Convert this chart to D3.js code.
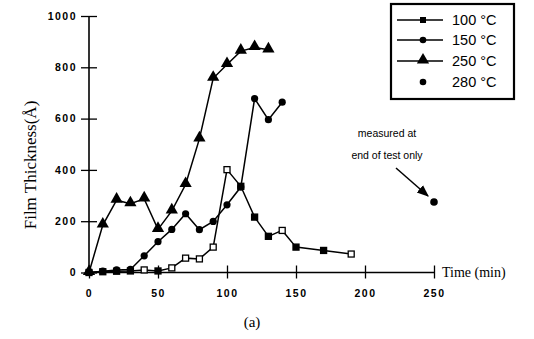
<!DOCTYPE html>
<html><head><meta charset="utf-8">
<script src="https://cdn.jsdelivr.net/npm/d3@7"></script>
<style>
body{margin:0;background:#fff}
svg{display:block}
</style></head>
<body>
<svg id="c" width="534" height="339"></svg>
<script>
// Data
const xTicks = [0, 50, 100, 150, 200, 250];
const yTicks = [0, 200, 400, 600, 800, 1000];

const t250 = [0, 10, 20, 30, 40, 50, 60, 70, 80, 90, 100, 110, 120, 130];
const v250 = [0, 185, 282, 268, 287, 168, 240, 343, 521, 757, 811, 863, 877, 868];

const t150 = [0, 10, 20, 30, 40, 50, 60, 70, 80, 90, 100, 110, 120, 130, 140];
const v150 = [0, 5, 10, 12, 65, 120, 168, 229, 167, 199, 264, 333, 678, 596, 664];

const t100 = [0, 10, 20, 30, 40, 50, 60, 70, 80, 90, 100, 110, 120, 130, 140, 150, 170, 190];
const v100 = [0, 3, 5, 6, 10, 6, 18, 56, 53, 99, 401, 336, 216, 141, 164, 99, 86, 72];
const hollow100 = [false, false, false, false, true, false, true, true, true, true, true, false, false, false, true, false, false, true];

const t280 = [250];
const v280 = [275];

const legendLabels = ["100 °C", "150 °C", "250 °C", "280 °C"];

const svg = d3.select("#c");
const x = d3.scaleLinear().domain([0, 250]).range([89, 434]);
const y = d3.scaleLinear().domain([0, 1000]).range([272.5, 16]);

// Y axis
const yAxis = d3.axisLeft(y).tickValues(yTicks).tickSize(8).tickPadding(5).tickFormat(d3.format("d"));
const yg = svg.append("g").attr("transform", "translate(89,0)").call(yAxis);
yg.select(".domain").remove();
yg.selectAll(".tick line").attr("x1", 8).attr("stroke", "#000").attr("stroke-width", 1.3);
yg.selectAll(".tick text").attr("font-family", "Arial, Liberation Sans, sans-serif").attr("font-weight", "bold").attr("font-size", 10.5).attr("letter-spacing", 1.5).attr("fill", "#000").attr("x", -12);
svg.append("line").attr("x1", 89).attr("x2", 89).attr("y1", y(1000)).attr("y2", y(0)).attr("stroke", "#000").attr("stroke-width", 1.6);

// X axis
const xAxis = d3.axisBottom(x).tickValues(xTicks).tickSize(6).tickPadding(11).tickFormat(d3.format("d"));
const xg = svg.append("g").attr("transform", `translate(0,${y(0)})`).call(xAxis);
xg.select(".domain").remove();
xg.selectAll(".tick line").attr("y1", -7).attr("stroke", "#000").attr("stroke-width", 1.3);
xg.selectAll(".tick text").attr("font-family", "Arial, Liberation Sans, sans-serif").attr("font-weight", "bold").attr("font-size", 10.5).attr("letter-spacing", 1.5).attr("fill", "#000");
svg.append("line").attr("x1", x(0)).attr("x2", x(250)).attr("y1", y(0)).attr("y2", y(0)).attr("stroke", "#000").attr("stroke-width", 1.3);

// Axis titles
svg.append("text").attr("x", 442).attr("y", y(0) + 4.5).attr("font-family", "Liberation Serif, Times New Roman, serif").attr("font-size", 14).attr("fill", "#000").text("Time (min)");
svg.append("text").attr("transform", "translate(36,165) rotate(-90)").attr("text-anchor", "middle").attr("font-family", "Liberation Serif, Times New Roman, serif").attr("font-size", 17).attr("fill", "#000").text("Film Thickness(Å)");
svg.append("text").attr("x", 252).attr("y", 327).attr("text-anchor", "middle").attr("font-family", "Liberation Serif, Times New Roman, serif").attr("font-size", 15).attr("fill", "#000").text("(a)");

const line = d3.line().x(d => x(d[0])).y(d => y(d[1]));
const zip = (a, b) => a.map((v, i) => [v, b[i]]);

const d250 = zip(t250, v250), d150 = zip(t150, v150), d100 = zip(t100, v100);

[d250, d150, d100].forEach(d => {
  svg.append("path").datum(d).attr("d", line).attr("fill", "none").attr("stroke", "#000").attr("stroke-width", 1.5);
});

const tri = d3.symbol().type(d3.symbolTriangle).size(65);
svg.selectAll(".tri").data(d250).join("path").attr("d", tri)
  .attr("transform", d => `translate(${x(d[0])},${y(d[1]) - 1})`).attr("fill", "#000");

svg.selectAll(".c150").data(d150).join("circle").attr("cx", d => x(d[0])).attr("cy", d => y(d[1])).attr("r", 3.6).attr("fill", "#000");

svg.selectAll(".s100").data(d100).join("rect")
  .attr("x", d => x(d[0]) - 3).attr("y", d => y(d[1]) - 3).attr("width", 6).attr("height", 6)
  .attr("fill", (d, i) => hollow100[i] ? "#fff" : "#000").attr("stroke", "#000").attr("stroke-width", 1.3);

svg.selectAll(".p280").data(zip(t280, v280)).join("circle").attr("cx", d => x(d[0])).attr("cy", d => y(d[1])).attr("r", 3.8).attr("fill", "#000");

// Annotation
svg.append("text").attr("x", 387).attr("y", 137).attr("text-anchor", "middle").attr("font-family", "Arial, Liberation Sans, sans-serif").attr("font-size", 10.5).attr("fill", "#000").text("measured at");
svg.append("text").attr("x", 387).attr("y", 159).attr("text-anchor", "middle").attr("font-family", "Arial, Liberation Sans, sans-serif").attr("font-size", 10.5).attr("fill", "#000").text("end of test only");
svg.append("defs").append("marker").attr("id", "ah").attr("viewBox", "0 0 10 10").attr("refX", 9).attr("refY", 5)
  .attr("markerWidth", 8).attr("markerHeight", 8).attr("orient", "auto")
  .append("path").attr("d", "M0,1 L10,5 L0,9 Z").attr("fill", "#000");
svg.append("line").attr("x1", 396).attr("y1", 168).attr("x2", 428).attr("y2", 196).attr("stroke", "#000").attr("stroke-width", 1.5).attr("marker-end", "url(#ah)");

// Legend
const lg = svg.append("g");
lg.append("rect").attr("x", 391).attr("y", 4).attr("width", 123).attr("height", 95).attr("fill", "#fff").attr("stroke", "#000").attr("stroke-width", 2.2);
const rows = [20, 40, 61, 82];
legendLabels.forEach((lab, i) => {
  const ry = rows[i];
  if (i < 3) lg.append("line").attr("x1", 397).attr("x2", 443).attr("y1", ry).attr("y2", ry).attr("stroke", "#000").attr("stroke-width", 1.3);
  if (i === 0) lg.append("rect").attr("x", 420).attr("y", ry - 3).attr("width", 6).attr("height", 6).attr("fill", "#000");
  if (i === 1 || i === 3) lg.append("circle").attr("cx", 423).attr("cy", ry).attr("r", 3.3).attr("fill", "#000");
  if (i === 2) lg.append("path").attr("d", tri).attr("transform", `translate(423,${ry - 1})`).attr("fill", "#000");
  lg.append("text").attr("x", 452).attr("y", ry + 5).attr("font-family", "Arial, Liberation Sans, sans-serif").attr("font-size", 14.5).attr("fill", "#000").attr("xml:space", "preserve").text(lab);
});
</script>
</body></html>
